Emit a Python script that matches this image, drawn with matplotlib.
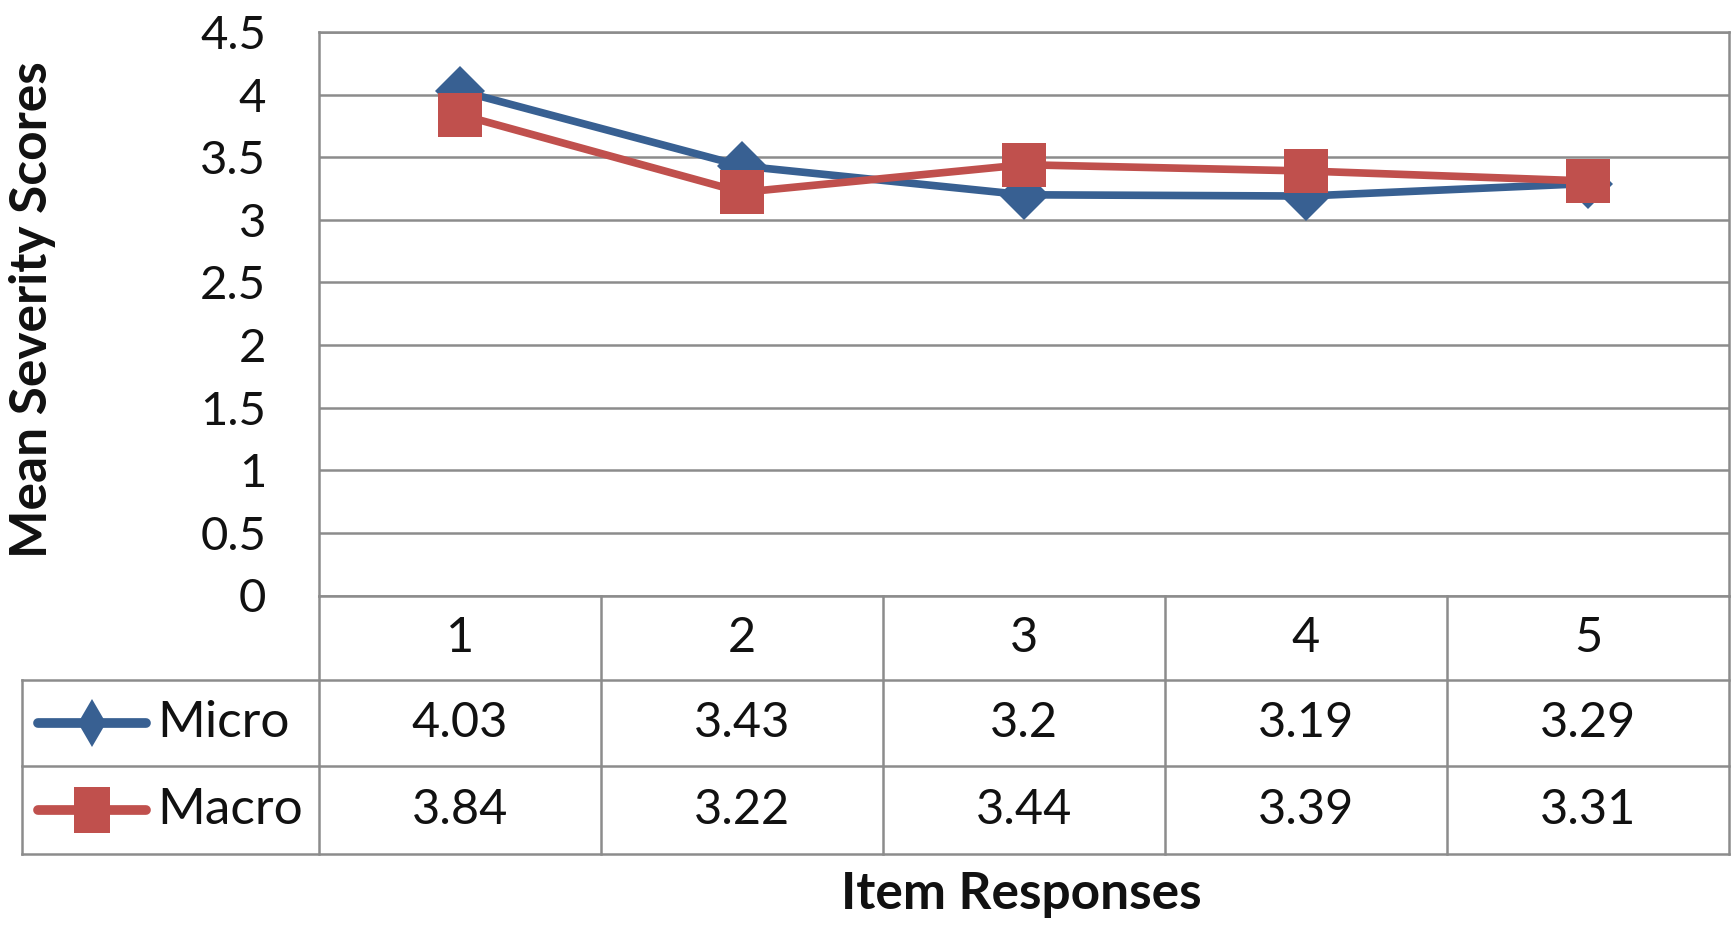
import matplotlib
matplotlib.use("Agg")
import matplotlib.pyplot as plt
import matplotlib.transforms as mtransforms
from matplotlib.lines import Line2D

plt.rcParams['font.family'] = ['Lato', 'DejaVu Sans']

# Data
categories = [1, 2, 3, 4, 5]
micro = [4.03, 3.43, 3.2, 3.19, 3.29]
macro = [3.84, 3.22, 3.44, 3.39, 3.31]
series_names = ["Micro", "Macro"]
y_ticks = [0, 0.5, 1, 1.5, 2, 2.5, 3, 3.5, 4, 4.5]

BLUE = '#386092'
RED = '#C0504D'
GRID = '#8C8C8C'
TXT = '#111111'

W, H = 1736, 927
fig = plt.figure(figsize=(W / 100, H / 100), dpi=100)

# plot area in pixel coordinates
px_left, px_right, px_top, px_bottom = 319, 1729, 32, 595.5
ax = fig.add_axes([px_left / W, 1 - px_bottom / H,
                   (px_right - px_left) / W, (px_bottom - px_top) / H])

ax.set_xlim(0.5, 5.5)
ax.set_ylim(0, 4.5)
ax.set_yticks(y_ticks)
ax.set_yticklabels([f"{v:g}" for v in y_ticks])
ax.set_xticks([])
ax.tick_params(axis='y', length=0, pad=38, labelsize=34, labelcolor=TXT)
ax.yaxis.grid(True, color=GRID, linewidth=1.8)
ax.set_axisbelow(True)
for s in ax.spines.values():
    s.set_color(GRID)
    s.set_linewidth(1.8)

ax.plot(categories, micro, color=BLUE, linewidth=5.5, marker='D',
        markersize=25, markeredgewidth=0, zorder=3)
ax.plot(categories, macro, color=RED, linewidth=5.5, marker='s',
        markersize=31, markeredgewidth=0, zorder=4)

# ---- data table below the plot ----
ax_h = px_bottom - px_top
col_w = (px_right - px_left) / 5


def yfrac(py):
    return (px_bottom - py) / ax_h


def xdata(px):
    return 0.5 + (px - px_left) / col_w


trans = mtransforms.blended_transform_factory(ax.transData, ax.transAxes)
row_lines = [680, 766, 853.5]
tbl_left = xdata(22)
lk = dict(color=GRID, linewidth=1.8, transform=trans, clip_on=False, zorder=1)

for b in [c + 0.5 for c in [0] + categories]:
    ax.add_line(Line2D([b, b], [0, yfrac(row_lines[-1])], **lk))
ax.add_line(Line2D([tbl_left, tbl_left],
                   [yfrac(row_lines[0]), yfrac(row_lines[-1])], **lk))
for ry in row_lines:
    ax.add_line(Line2D([tbl_left, 5.5], [yfrac(ry), yfrac(ry)], **lk))

hdr_c = yfrac((px_bottom + row_lines[0]) / 2)
row_c = [yfrac((row_lines[0] + row_lines[1]) / 2),
         yfrac((row_lines[1] + row_lines[2]) / 2)]

for c in categories:
    ax.text(c, hdr_c, str(c), transform=trans, ha='center', va='center',
            fontsize=35, color=TXT)

for vals, yc in zip([micro, macro], row_c):
    for c, v in zip(categories, vals):
        ax.text(c, yc, f"{v:g}", transform=trans, ha='center', va='center',
                fontsize=35, color=TXT)

# legend keys inside the table (slightly narrow markers)
narrow_square = [(-0.4, -0.5), (0.4, -0.5), (0.4, 0.5), (-0.4, 0.5),
                 (-0.4, -0.5)]
styles = [(BLUE, 'd', 24), (RED, narrow_square, 33)]
for name, yc, (col, mk, ms) in zip(series_names, row_c, styles):
    ax.add_line(Line2D([xdata(38), xdata(146)], [yc, yc], color=col,
                       linewidth=7, solid_capstyle='round', transform=trans,
                       clip_on=False, zorder=3))
    ax.add_line(Line2D([xdata(92)], [yc], color=col, marker=mk, markersize=ms,
                       markeredgewidth=0, transform=trans, clip_on=False,
                       zorder=4))
    ax.text(xdata(157), yc, name, transform=trans, ha='left', va='center',
            fontsize=37, color=TXT)

# axis titles
fig.text(33 / W, 1 - 310 / H, "Mean Severity Scores", rotation=90,
         ha='center', va='center', fontsize=37, fontweight='bold',
         color=TXT)
fig.text(1021 / W, 1 - 894 / H, "Item Responses", ha='center', va='center',
         fontsize=37, fontweight='bold', color=TXT)

fig.savefig("out.png", dpi=100, facecolor='white')
